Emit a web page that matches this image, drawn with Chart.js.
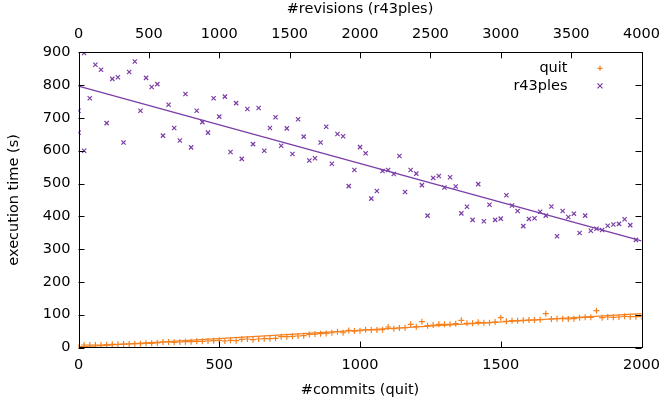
<!DOCTYPE html>
<html>
<head>
<meta charset="utf-8">
<script src="https://cdn.jsdelivr.net/npm/chart.js@4/dist/chart.umd.min.js"></script>
<style>
  html, body { margin: 0; padding: 0; background: #ffffff; }
  #wrap { width: 663px; height: 403px; }
</style>
</head>
<body>
<div id="wrap"><canvas id="c" width="663" height="403"></canvas></div>
<script>
// ---- data ----
const quitCommits = [0,20,40,60,80,100,120,140,160,180,200,220,240,260,280,300,320,340,360,380,
  400,420,440,460,480,500,520,540,560,580,600,620,640,660,680,700,720,740,760,780,
  800,820,840,860,880,900,920,940,960,980,1000,1020,1040,1060,1080,1100,1120,1140,1160,1180,
  1200,1220,1240,1260,1280,1300,1320,1340,1360,1380,1400,1420,1440,1460,1480,1500,1520,1540,1560,1580,
  1600,1620,1640,1660,1680,1700,1720,1740,1760,1780,1800,1820,1840,1860,1880,1900,1920,1940,1960,1980,2000];
const quitTimes = [2.5,7.6,7.6,7.6,7.6,8.6,9.6,9.6,10.6,10.6,11.7,11.7,12.7,12.7,13.7,16.7,16.7,15.7,16.7,17.8,
  17.8,18.8,18.8,19.8,20.8,21.8,19.8,21.8,20.8,24.9,25.9,23.9,25.9,26.9,26.9,27.9,33,33,34,35,
  36,40,41,42,43,45,48,45,52,50,51,54.4,53.4,53.4,54.4,62.5,57.4,59.4,60.5,70.6,
  63.5,78.8,66.6,68.6,70.6,70.6,70.6,72.7,82.8,73.7,73.7,76.7,75.7,75.7,77.8,91,79.8,81.8,81.8,82.8,
  83.9,83.9,84.9,103.2,86.9,87.9,87.9,86.9,87.9,91,92,92,112.3,91,93,92,93,95,94,94,94];

const r43Revisions = [0,0,40,40,80,120,160,200,240,280,320,360,400,440,480,520,560,600,640,680,
  720,760,800,840,880,920,960,1000,1040,1080,1120,1160,1200,1240,1280,1320,1360,1400,1440,1480,
  1520,1560,1600,1640,1680,1720,1760,1800,1840,1880,1920,1960,2000,2040,2080,2120,2160,2200,2240,2280,
  2320,2360,2400,2440,2480,2520,2560,2600,2640,2680,2720,2760,2800,2840,2880,2920,2960,3000,3040,3080,
  3120,3160,3200,3240,3280,3320,3360,3400,3440,3480,3520,3560,3600,3640,3680,3720,3760,3800,3840,3880,
  3920,3960];
const r43Times = [722,655,898,600,760,862,847,684,819,824,625,840,872,722,822,794,803,646,740,669,
  631,773,610,722,687,655,760,704,765,596,745,575,727,620,730,600,669,702,615,668,
  590,696,643,570,577,625,673,560,651,644,492,541,611,592,454,477,538,541,529,584,
  474,541,530,495,402,517,523,488,519,491,409,429,389,498,385,435,389,393,464,433,
  416,370,392,394,414,402,430,339,416,398,408,349,402,356,362,358,371,375,377,391,
  373,328];

// linear fits (end points)
const quitFitX = [0, 2000];
const quitFitY = [2, 103];
const r43FitX = [0, 4000];
const r43FitY = [797, 325];

const seriesNames = ['quit', 'r43ples'];
const xTitle = '#commits (quit)';
const x2Title = '#revisions (r43ples)';
const yTitle = 'execution time (s)';

// ---- styling ----
const ORANGE = '#f5801f';
const PURPLE = '#7b3da6';
const FONT = { family: 'DejaVu Sans', size: 14.5 };
const AREA = { left: 78.5, right: 641.5, top: 52.3, bottom: 347.5 };

const zip = (xs, ys) => xs.map((x, i) => ({ x: x, y: ys[i] }));
const plain = v => String(v);

// inward ticks + frame, like gnuplot
const framePlugin = {
  id: 'frame',
  afterDatasetsDraw(chart) {
    const { ctx, chartArea: a, scales } = chart;
    const L = 6;
    ctx.save();
    ctx.strokeStyle = '#000';
    ctx.lineWidth = 1;
    ctx.beginPath();
    scales.y.ticks.forEach(t => {
      const p = Math.round(scales.y.getPixelForValue(t.value)) + 0.5;
      ctx.moveTo(a.left, p); ctx.lineTo(a.left + L, p);
      ctx.moveTo(a.right, p); ctx.lineTo(a.right - L, p);
    });
    scales.x.ticks.forEach(t => {
      const p = Math.round(scales.x.getPixelForValue(t.value)) + 0.5;
      ctx.moveTo(p, a.bottom); ctx.lineTo(p, a.bottom - L);
    });
    scales.x2.ticks.forEach(t => {
      const p = Math.round(scales.x2.getPixelForValue(t.value)) + 0.5;
      ctx.moveTo(p, a.top); ctx.lineTo(p, a.top + L);
    });
    ctx.stroke();
    ctx.strokeRect(Math.round(a.left) + 0.5, Math.round(a.top) + 0.5,
                   Math.round(a.right - a.left), Math.round(a.bottom - a.top));
    ctx.restore();
  }
};

// gnuplot-like key: text right-aligned, sample marker on the right
const keyPlugin = {
  id: 'key',
  afterDraw(chart) {
    const { ctx, chartArea: a } = chart;
    const rows = [
      { text: seriesNames[0], color: ORANGE, style: 'cross' },
      { text: seriesNames[1], color: PURPLE, style: 'crossRot' }
    ];
    ctx.save();
    ctx.font = '14.5px "DejaVu Sans"';
    ctx.textAlign = 'right';
    ctx.textBaseline = 'middle';
    rows.forEach((r, i) => {
      const y = a.top + 16 + i * 17.5;
      ctx.fillStyle = '#000';
      ctx.fillText(r.text, a.right - 74, y);
      const x = a.right - 41.5, s = 2.5;
      ctx.strokeStyle = r.color;
      ctx.lineWidth = 1.2;
      ctx.beginPath();
      if (r.style === 'cross') {
        ctx.moveTo(x - s, y); ctx.lineTo(x + s, y);
        ctx.moveTo(x, y - s); ctx.lineTo(x, y + s);
      } else {
        ctx.moveTo(x - s, y - s); ctx.lineTo(x + s, y + s);
        ctx.moveTo(x - s, y + s); ctx.lineTo(x + s, y - s);
      }
      ctx.stroke();
    });
    ctx.restore();
  }
};

const axisCommon = {
  grid: { display: false, drawTicks: false },
  border: { display: false }
};

const chart = new Chart(document.getElementById('c'), {
  type: 'scatter',
  data: {
    datasets: [
      {
        label: seriesNames[0],
        data: zip(quitCommits, quitTimes),
        xAxisID: 'x', yAxisID: 'y',
        pointStyle: 'cross', pointRadius: 3, borderWidth: 1.2,
        borderColor: ORANGE, backgroundColor: ORANGE, showLine: false
      },
      {
        type: 'line',
        label: 'quit fit',
        data: zip(quitFitX, quitFitY),
        xAxisID: 'x', yAxisID: 'y',
        borderColor: ORANGE, borderWidth: 1.3, pointRadius: 0, fill: false
      },
      {
        label: seriesNames[1],
        data: zip(r43Revisions, r43Times),
        xAxisID: 'x2', yAxisID: 'y',
        pointStyle: 'crossRot', pointRadius: 3, borderWidth: 1.2,
        borderColor: PURPLE, backgroundColor: PURPLE, showLine: false
      },
      {
        type: 'line',
        label: 'r43ples fit',
        data: zip(r43FitX, r43FitY),
        xAxisID: 'x2', yAxisID: 'y',
        borderColor: PURPLE, borderWidth: 1.3, pointRadius: 0, fill: false
      }
    ]
  },
  options: {
    responsive: false,
    animation: false,
    devicePixelRatio: 1,
    layout: { padding: { left: 0, right: 663 - AREA.right, top: 0, bottom: 0 } },
    plugins: { legend: { display: false }, tooltip: { enabled: false } },
    scales: {
      x: Object.assign({}, axisCommon, {
        type: 'linear', position: 'bottom', min: 0, max: 2000,
        ticks: { stepSize: 500, color: '#000', font: FONT, padding: 9, maxRotation: 0, callback: plain },
        title: { display: true, text: xTitle, color: '#000', font: FONT, padding: { top: 0, bottom: 4 } },
        afterFit: s => { s.height = 403 - AREA.bottom; s.paddingLeft = 0; s.paddingRight = 0; }
      }),
      x2: Object.assign({}, axisCommon, {
        type: 'linear', position: 'top', min: 0, max: 4000,
        ticks: { stepSize: 500, color: '#000', font: FONT, padding: 9, maxRotation: 0, callback: plain },
        title: { display: true, text: x2Title, color: '#000', font: FONT, padding: { top: 1, bottom: 0 } },
        afterFit: s => { s.height = AREA.top; s.paddingLeft = 0; s.paddingRight = 0; }
      }),
      y: Object.assign({}, axisCommon, {
        type: 'linear', position: 'left', min: 0, max: 900,
        ticks: { stepSize: 100, color: '#000', font: FONT, padding: 8, callback: plain },
        title: { display: true, text: yTitle, color: '#000', font: FONT, padding: { top: 6, bottom: 0 } },
        afterFit: s => { s.width = AREA.left; s.paddingTop = 0; s.paddingBottom = 0; }
      })
    }
  },
  plugins: [framePlugin, keyPlugin]
});

// nudge the right padding so the plot frame lands where the reference has it
for (let i = 0; i < 3; i++) {
  const diff = AREA.right - chart.chartArea.right;
  if (Math.abs(diff) < 0.3) break;
  chart.options.layout.padding.right = Math.max(0, chart.options.layout.padding.right - diff);
  chart.update('none');
}
</script>
</body>
</html>
